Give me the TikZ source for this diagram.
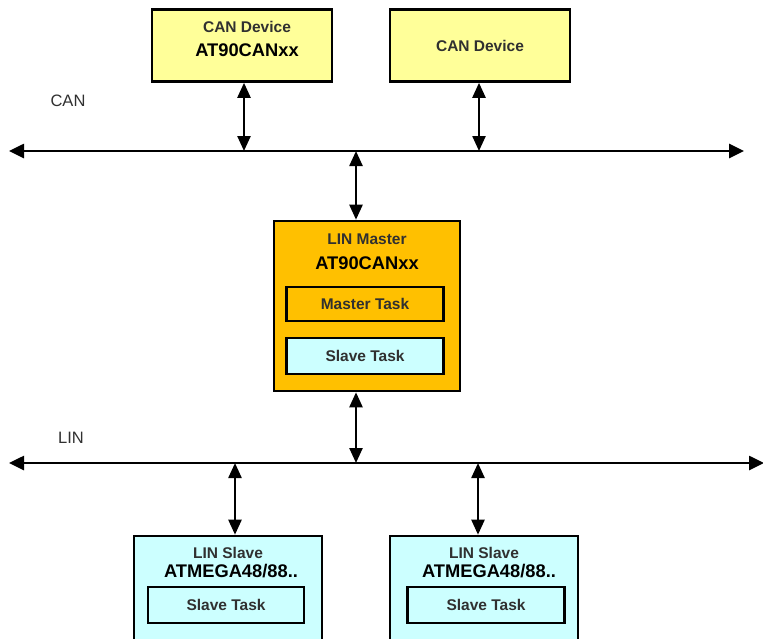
\documentclass[tikz,border=0pt]{standalone}
\usepackage{fontspec}
\setmainfont{Liberation Sans}
\usetikzlibrary{arrows.meta}
\definecolor{canyellow}{HTML}{FFFF99}
\definecolor{linorange}{HTML}{FFC000}
\definecolor{slavecyan}{HTML}{CCFFFF}
\definecolor{labelgray}{HTML}{303030}
\begin{document}
\begin{tikzpicture}[x=1pt,y=-1pt,
  box/.style={draw=black, line width=2.6pt, rectangle, inner sep=0pt},
  canbox/.style={box, fill=canyellow, minimum width=180pt, minimum height=72pt},
  masterbox/.style={box, fill=linorange, minimum width=186pt, minimum height=170pt},
  slavebox/.style={box, fill=slavecyan, minimum width=188pt, minimum height=120pt},
  taskbox/.style={box, minimum height=34pt},
  graytxt/.style={font=\bfseries\fontsize{15.5}{18}\selectfont, text=labelgray, inner sep=0pt},
  bigtxt/.style={font=\bfseries\fontsize{18.3}{22}\selectfont, text=black, inner sep=0pt},
  buslabel/.style={font=\fontsize{16.5}{20}\selectfont, text=labelgray, inner sep=0pt},
  conn/.style={line width=2.4pt, {Triangle[length=15pt 0,width=13pt 0]}-{Triangle[length=15pt 0,width=13pt 0]}},
  bus/.style={line width=2.6pt, {Triangle[length=15pt 0,width=14pt 0]}-{Triangle[length=15pt 0,width=14pt 0]}}
]
\useasboundingbox (0,0) rectangle (763,638);
\clip (0,0) rectangle (763,638);
\fill[white] (0,0) rectangle (763,638);

% CAN devices
\node[canbox] (can1) at (242,45.5) {};
\node[graytxt] (can1a) at (247,27) {CAN Device};
\node[bigtxt] (can1b) at (247,50) {AT90CANxx};
\node[canbox] (can2) at (480,45.5) {};
\node[graytxt] (can2a) at (480,46) {CAN Device};

% CAN bus
\coordinate (canL) at (9,151);
\coordinate (canR) at (744,151);
\draw[bus] (canL) -- (canR);
\node[buslabel] (canlbl) at (68,101) {CAN};

% LIN master
\node[masterbox] (master) at (367,306) {};
\node[graytxt] (mastera) at (367,239) {LIN Master};
\node[bigtxt] (masterb) at (367,263) {AT90CANxx};
\node[taskbox, fill=linorange, minimum width=157pt] (mtask) at (365,304) {};
\node[graytxt] (mtasktxt) at (365,304) {Master Task};
\node[taskbox, fill=slavecyan, minimum width=157pt, minimum height=36pt] (stask) at (365,356) {};
\node[graytxt] (stasktxt) at (365,356) {Slave Task};

% LIN bus
\coordinate (linL) at (9,463);
\coordinate (linR) at (764,463);
\draw[bus] (linL) -- (linR);
\node[buslabel] (linlbl) at (71,438) {LIN};

% LIN slaves
\node[slavebox] (slave1) at (228,596) {};
\node[graytxt] (slave1a) at (228,553) {LIN Slave};
\node[bigtxt] (slave1b) at (231,571) {ATMEGA48/88..};
\node[taskbox, fill=slavecyan, minimum width=156pt, minimum height=36pt] (s1task) at (226,605) {};
\node[graytxt] (s1tasktxt) at (226,605) {Slave Task};

\node[slavebox] (slave2) at (484,596) {};
\node[graytxt] (slave2a) at (484,553) {LIN Slave};
\node[bigtxt] (slave2b) at (489,571) {ATMEGA48/88..};
\node[taskbox, fill=slavecyan, minimum width=157pt, minimum height=36pt] (s2task) at (486,605) {};
\node[graytxt] (s2tasktxt) at (486,605) {Slave Task};

% connectors
\coordinate (c1) at (244,151);
\coordinate (c2) at (479,151);
\coordinate (cm) at (356,151);
\coordinate (lm) at (356,463);
\coordinate (l1) at (235,463);
\coordinate (l2) at (478,463);
\draw[conn] (can1.south -| c1) -- (c1);
\draw[conn] (can2.south -| c2) -- (c2);
\draw[conn] (cm) -- (master.north -| cm);
\draw[conn] (master.south -| lm) -- (lm);
\draw[conn] (l1) -- (slave1.north -| l1);
\draw[conn] (l2) -- (slave2.north -| l2);
\end{tikzpicture}
\end{document}
